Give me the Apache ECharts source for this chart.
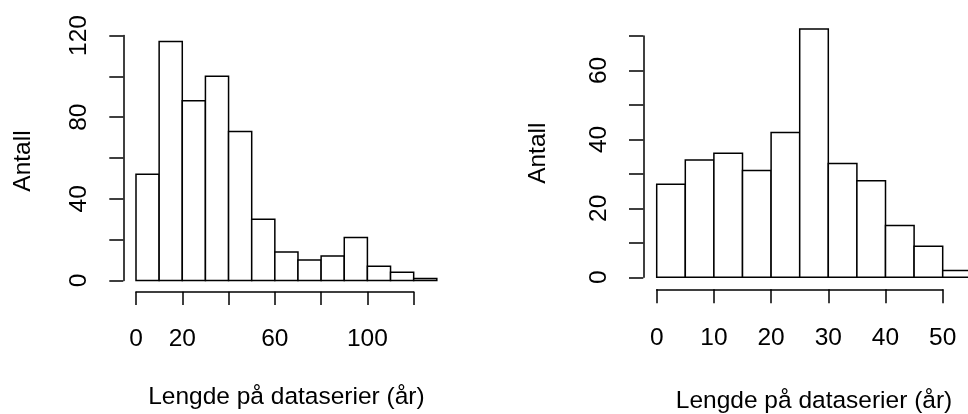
<!DOCTYPE html>
<html>
<head>
<meta charset="utf-8">
<script src="https://cdn.jsdelivr.net/npm/echarts@6/dist/echarts.min.js"></script>
<style>
html,body{margin:0;padding:0;background:#fff;}
#chart{width:968px;height:414px;}
</style>
</head>
<body>
<div id="chart"></div>
<script>
// ---------- data ----------
const leftBreaks = [0, 10, 20, 30, 40, 50, 60, 70, 80, 90, 100, 110, 120, 130];
const leftCounts = [52, 117, 88, 100, 73, 30, 14, 10, 12, 21, 7, 4, 1];
const leftXTicks = [0, 20, 40, 60, 80, 100, 120];
const leftXTickLabels = ['0', '20', '', '60', '', '100', ''];
const leftYTicks = [0, 20, 40, 60, 80, 100, 120];
const leftYTickLabels = ['0', '', '40', '', '80', '', '120'];

const rightBreaks = [0, 5, 10, 15, 20, 25, 30, 35, 40, 45, 50, 55];
const rightCounts = [27, 34, 36, 31, 42, 72, 33, 28, 15, 9, 2];
const rightXTicks = [0, 10, 20, 30, 40, 50];
const rightXTickLabels = ['0', '10', '20', '30', '40', '50'];
const rightYTicks = [0, 10, 20, 30, 40, 50, 60, 70];
const rightYTickLabels = ['0', '', '20', '', '40', '', '60', ''];

const xTitle = 'Lengde på dataserier (år)';
const yTitle = 'Antall';

// ---------- layout ----------
const FONT = "'Liberation Sans', Arial, Helvetica, sans-serif";
const FS = 24.5;
const LW = 1.5;
const panels = [
  {breaks: leftBreaks, counts: leftCounts, xTicks: leftXTicks, xLabels: leftXTickLabels,
   yTicks: leftYTicks, yLabels: leftYTickLabels,
   x0: 136, pxX: 2.314, y0: 280.5, pxY: 2.0417,
   xOff: 11.2, yOff: 12.7, xTickLen: 13.3, yTickLen: 14, xMargin: 35.5, yMargin: 31.8,
   xNameGap: 104, yNameGap: 100},
  {breaks: rightBreaks, counts: rightCounts, xTicks: rightXTicks, xLabels: rightXTickLabels,
   yTicks: rightYTicks, yLabels: rightYTickLabels,
   x0: 656.7, pxX: 5.72, y0: 277.3, pxY: 3.447,
   xOff: 12, yOff: 13.4, xTickLen: 14, yTickLen: 14.3, xMargin: 36.5, yMargin: 31.2,
   xNameGap: 111, yNameGap: 106}
];

const grid = [], xAxis = [], yAxis = [], series = [];
const txt = {color: '#000', fontFamily: FONT, fontSize: FS};
const lineStyle = {color: '#000', width: LW};

function labelFn(ticks, labels) {
  return function (v) { const i = ticks.indexOf(v); return i >= 0 ? labels[i] : ''; };
}

panels.forEach(function (p, k) {
  const xMaxBars = p.breaks[p.breaks.length - 1];
  const yMaxBars = Math.max.apply(null, p.counts);
  const xMaxAxis = p.xTicks[p.xTicks.length - 1];
  const yMaxAxis = p.yTicks[p.yTicks.length - 1];
  const xStep = p.xTicks[1] - p.xTicks[0];
  const yStep = p.yTicks[1] - p.yTicks[0];
  const gBars = grid.length;
  grid.push({left: p.x0, top: p.y0 - yMaxBars * p.pxY, width: xMaxBars * p.pxX,
             height: yMaxBars * p.pxY, containLabel: false, outerBoundsMode: 'none'});
  const gAxis = grid.length;
  grid.push({left: p.x0, top: p.y0 - yMaxAxis * p.pxY, width: xMaxAxis * p.pxX,
             height: yMaxAxis * p.pxY, containLabel: false, outerBoundsMode: 'none'});

  // bar grid axes: hidden, carry the titles
  xAxis.push({gridIndex: gBars, type: 'value', min: 0, max: xMaxBars,
    axisLine: {show: false, onZero: false}, axisTick: {show: false}, axisLabel: {show: false}, splitLine: {show: false},
    name: xTitle, nameLocation: 'middle', nameGap: p.xNameGap, nameTextStyle: txt});
  yAxis.push({gridIndex: gBars, type: 'value', min: 0, max: yMaxBars,
    axisLine: {show: false, onZero: false}, axisTick: {show: false}, axisLabel: {show: false}, splitLine: {show: false},
    name: yTitle, nameLocation: 'middle', nameGap: p.yNameGap, nameTextStyle: txt});

  // visible axes (R style, detached from the plot region)
  xAxis.push({gridIndex: gAxis, type: 'value', min: 0, max: xMaxAxis, interval: xStep,
    position: 'bottom', offset: p.xOff,
    axisLine: {show: true, onZero: false, lineStyle: lineStyle},
    axisTick: {show: true, length: p.xTickLen, lineStyle: lineStyle},
    axisLabel: Object.assign({show: true, margin: p.xMargin, hideOverlap: false,
      showMinLabel: true, showMaxLabel: true, formatter: labelFn(p.xTicks, p.xLabels)}, txt),
    splitLine: {show: false}});
  yAxis.push({gridIndex: gAxis, type: 'value', min: 0, max: yMaxAxis, interval: yStep,
    position: 'left', offset: p.yOff,
    axisLine: {show: true, onZero: false, lineStyle: lineStyle},
    axisTick: {show: true, length: p.yTickLen, lineStyle: lineStyle},
    axisLabel: Object.assign({show: true, margin: p.yMargin, rotate: 90, hideOverlap: false,
      showMinLabel: true, showMaxLabel: true, formatter: labelFn(p.yTicks, p.yLabels)}, txt),
    splitLine: {show: false}});

  const data = p.counts.map(function (c, i) { return [p.breaks[i], p.breaks[i + 1], c]; });
  series.push({
    type: 'custom', xAxisIndex: gBars, yAxisIndex: gBars, clip: false,
    encode: {x: [0, 1], y: 2},
    data: data,
    renderItem: function (params, api) {
      const a = api.coord([api.value(0), api.value(2)]);
      const b = api.coord([api.value(1), 0]);
      return {type: 'rect',
        shape: {x: a[0], y: a[1], width: b[0] - a[0], height: b[1] - a[1]},
        style: {fill: '#fff', stroke: '#000', lineWidth: LW}};
    }
  });
});

const chart = echarts.init(document.getElementById('chart'), null, {renderer: 'canvas'});
chart.setOption({
  animation: false,
  backgroundColor: '#fff',
  textStyle: {fontFamily: FONT},
  grid: grid, xAxis: xAxis, yAxis: yAxis, series: series
});
</script>
</body>
</html>
